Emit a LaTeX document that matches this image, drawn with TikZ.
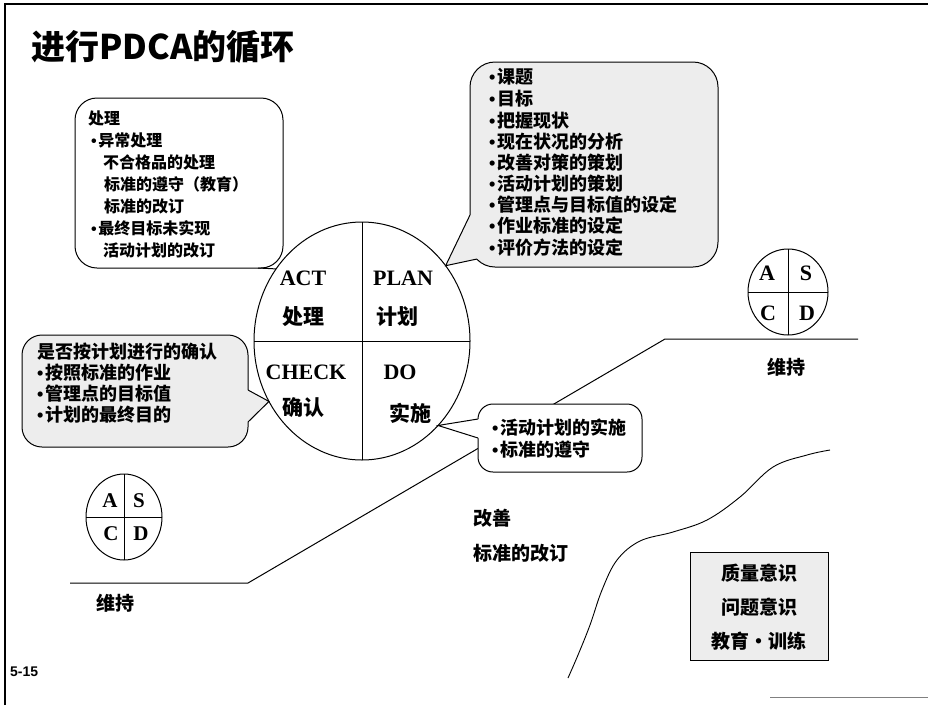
\documentclass[tikz,border=0pt]{standalone}
\usepackage{fontspec}
\setmainfont{Liberation Serif}
\newfontfamily\cjk{Noto Sans CJK SC}
\newfontfamily\lsans{Liberation Sans}
\usetikzlibrary{shapes.geometric}
\newcommand\mybul{{\lsans •}\hspace{1.5pt}}
\tikzset{
  ln/.style={line width=1pt, black},
  boxfill/.style={fill=gray!14},
  ctxt/.style={anchor=west, inner sep=0pt, font=\cjk\bfseries\fontsize{#1}{#1}\selectfont},
  ctxt/.default=16,
  mtxt/.style={inner sep=0pt, font=\cjk\bfseries\fontsize{#1}{#1}\selectfont},
  mtxt/.default=19,
  ltr/.style={inner sep=0pt, font=\bfseries\fontsize{#1}{#1}\selectfont},
  ltr/.default=22,
}
\begin{document}
\begin{tikzpicture}[x=1pt,y=-1pt]
\useasboundingbox[fill=white] (0,0) rectangle (928,705);
% frame
\draw[line width=1.3pt] (5,705) -- (5,4) -- (928,4);
\draw[gray, line width=1pt] (770,697) -- (928,697);
% title
\node[ctxt=34] (title) at (31,47) {进行PDCA的循环};
\node[anchor=west, inner sep=0pt, font=\lsans\bfseries\fontsize{14}{14}\selectfont] (pg) at (10,672) {5-15};

% staircase line
\coordinate (s1) at (70,583);
\coordinate (s2) at (248,583);
\coordinate (s3) at (665,339);
\coordinate (s4) at (858,339);
\draw[ln] (s1) -- (s2) -- (s3) -- (s4);

% wavy curve
\draw[line width=0.9pt] plot[smooth, tension=0.6] coordinates {(830,450) (807,455) (773,467) (740,497) (707,520) (673,532) (640,541) (617,560) (602,590) (590,625) (578,655) (568,678)};

% main circle
\node[ellipse, draw, line width=1pt, fill=white, minimum width=216pt, minimum height=238pt, inner sep=0pt, outer sep=0pt] (pdca) at (362,341) {};
\draw[ln] (pdca.north) -- (pdca.south);
\draw[ln] (pdca.west) -- (pdca.east);

% top-left callout
\draw[ln, fill=white, rounded corners=22pt] (75,98) rectangle (283,268);
\coordinate (tlb) at (258,268);
\draw[ln] (tlb) -- (pdca.140);

% top-right callout
\draw[ln, boxfill, rounded corners=25pt] (470,62) rectangle (718,267);
\coordinate (tra) at (470,215);
\coordinate (trb) at (477,259);
\fill[gray!14] (tra) -- (pdca.42) -- (trb) -- (486,252) -- (477,215) -- cycle;
\draw[ln] (tra) -- (pdca.42) -- (trb);

% left callout
\draw[ln, boxfill, rounded corners=20pt] (22,335) rectangle (248,447);
\coordinate (la) at (248,390);
\coordinate (lb) at (248,422);
\fill[gray!14] (la) -- (pdca.213) -- (lb) -- (240,422) -- (240,390) -- cycle;
\draw[ln] (la) -- (pdca.213) -- (lb);

% DO callout
\draw[ln, fill=white, rounded corners=15pt] (478,404) rectangle (642,472);
\coordinate (da) at (478,419);
\coordinate (db) at (478,438);
\fill[white] (da) -- (pdca.-48) -- (db) -- (486,438) -- (486,419) -- cycle;
\draw[ln] (da) -- (pdca.-48) -- (db);

% circle labels
\node[ltr] (act) at (303,278) {ACT};
\node[ltr] (plan) at (403,278) {PLAN};
\node[ltr] (check) at (306,372) {CHECK};
\node[ltr] (do) at (400,372) {DO};
\node[mtxt=21] (act2) at (303,317) {处理};
\node[mtxt=21] (plan2) at (397,317) {计划};
\node[mtxt=21] (check2) at (303,408) {确认};
\node[mtxt=21] (do2) at (410,413) {实施};

% top-left texts
\node[ctxt] (a0) at (88,118) {处理};
\node[ctxt] (a1) at (91,140) {\mybul 异常处理};
\node[ctxt] (a2) at (103,162) {不合格品的处理};
\node[ctxt] (a3) at (104,184) {标准的遵守（教育）};
\node[ctxt] (a4) at (104,206) {标准的改订};
\node[ctxt] (a5) at (91,228) {\mybul 最终目标未实现};
\node[ctxt] (a6) at (103,250) {活动计划的改订};

% top-right texts
\node[ctxt=18] (p1) at (489,77) {\mybul 课题};
\node[ctxt=18] (p2) at (489,99) {\mybul 目标};
\node[ctxt=18] (p3) at (489,121) {\mybul 把握现状};
\node[ctxt=18] (p4) at (489,142) {\mybul 现在状况的分析};
\node[ctxt=18] (p5) at (489,163) {\mybul 改善对策的策划};
\node[ctxt=18] (p6) at (489,184) {\mybul 活动计划的策划};
\node[ctxt=18] (p7) at (489,205) {\mybul 管理点与目标值的设定};
\node[ctxt=18] (p8) at (489,226) {\mybul 作业标准的设定};
\node[ctxt=18] (p9) at (489,248) {\mybul 评价方法的设定};

% left callout texts
\node[ctxt=18] (c0) at (37,352) {是否按计划进行的确认};
\node[ctxt=18] (c1) at (37,373) {\mybul 按照标准的作业};
\node[ctxt=18] (c2) at (37,394) {\mybul 管理点的目标值};
\node[ctxt=18] (c3) at (37,415) {\mybul 计划的最终目的};

% DO callout texts
\node[ctxt=18] (d1) at (492,428) {\mybul 活动计划的实施};
\node[ctxt=18] (d2) at (492,450) {\mybul 标准的遵守};

% middle texts
\node[ctxt=19] (k1) at (473,518) {改善};
\node[ctxt=19] (k2) at (473,553) {标准的改订};

% small ASD circles
\node[ellipse, draw, line width=1pt, minimum width=80pt, minimum height=86pt, inner sep=0pt, outer sep=0pt] (asd1) at (788,292) {};
\draw[ln] (asd1.north) -- (asd1.south);
\draw[ln] (asd1.west) -- (asd1.east);
\node[ltr=22] (a1A) at (767,273) {A};
\node[ltr=22] (a1S) at (806,273) {S};
\node[ltr=22] (a1C) at (768,313) {C};
\node[ltr=22] (a1D) at (807,313) {D};
\node[mtxt] (w1) at (786,367) {维持};

\node[ellipse, draw, line width=1pt, minimum width=76pt, minimum height=86pt, inner sep=0pt, outer sep=0pt] (asd2) at (124,517) {};
\draw[ln] (asd2.north) -- (asd2.south);
\draw[ln] (asd2.west) -- (asd2.east);
\node[ltr=21] (a2A) at (110,501) {A};
\node[ltr=21] (a2S) at (139,501) {S};
\node[ltr=21] (a2C) at (111,534) {C};
\node[ltr=21] (a2D) at (141,534) {D};
\node[mtxt] (w2) at (115,603) {维持};

% bottom-right box
\draw[ln, boxfill] (690,552) rectangle (828,660);
\node[mtxt] (q1) at (759,573) {质量意识};
\node[mtxt] (q2) at (759,607) {问题意识};
\node[mtxt] (q3) at (759,641) {教育・训练};
\end{tikzpicture}
\end{document}
